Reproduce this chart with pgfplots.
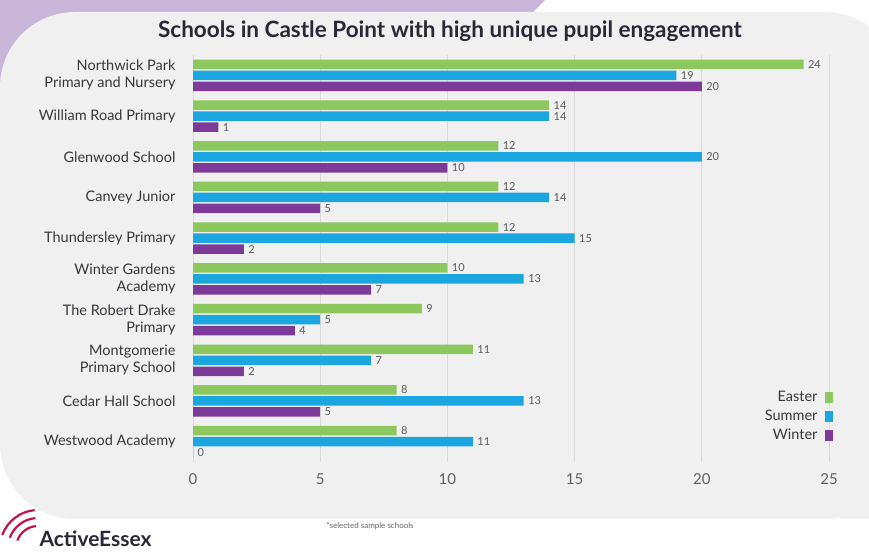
\documentclass[border=0pt]{standalone}
\usepackage{pgfplots}
\pgfplotsset{compat=1.18}
\usepackage{fontspec}
\setmainfont{Lato}
\definecolor{eastergreen}{RGB}{141,200,95}
\definecolor{summerblue}{RGB}{27,166,224}
\definecolor{winterpurple}{RGB}{125,58,152}
\definecolor{panelgray}{RGB}{240,240,240}
\definecolor{lavender}{RGB}{201,181,215}
\definecolor{titlecol}{RGB}{40,40,55}
\definecolor{labcol}{RGB}{55,55,60}
\definecolor{logored}{RGB}{196,18,74}
\begin{document}
\begin{tikzpicture}[x=1pt,y=1pt]
\useasboundingbox (0,0) rectangle (869,551);
\clip (0,0) rectangle (869,551);
\fill[white] (0,0) rectangle (869,551);
\fill[lavender] (0,551) -- (545,551) -- (530,536) -- (0,536) -- cycle;
\fill[lavender] (0,551) rectangle (60,400);
\fill[panelgray, rounded corners=75pt] (0,32) rectangle (900,539);
\fill[panelgray] (0,300) rectangle (40,400);
\fill[panelgray] (840,32) rectangle (900,400);
\node[font=\fontsize{22.5}{26}\selectfont\bfseries, text=titlecol] at (450,520) {Schools in Castle Point with high unique pupil engagement};
\node[font=\fontsize{8}{10}\selectfont, text=gray!80!black] at (370,25) {*selected sample schools};
\foreach \r in {22,30,38} {
  \draw[logored, line width=2.2pt] (38,3) ++(160:\r) arc (160:95:\r);
}
\node[anchor=base west, font=\fontsize{21}{25}\selectfont\bfseries, text=titlecol] at (36,5) {ActiveEssex};
\begin{axis}[
  at={(193pt,89pt)}, anchor=south west,
  scale only axis, width=636pt, height=407pt,
  xbar, bar width=9.5pt,
  xmin=0, xmax=25, ymin=-0.5, ymax=9.5, y dir=reverse,
  ytick={0,...,9},
  yticklabels={{Northwick Park\\Primary and Nursery},{William Road Primary},{Glenwood School},{Canvey Junior},{Thundersley Primary},{Winter Gardens\\Academy},{The Robert Drake\\Primary},{Montgomerie\\Primary School},{Cedar Hall School},{Westwood Academy}},
  yticklabel style={align=right, font=\fontsize{14.5}{17}\selectfont, text=labcol, xshift=-14pt},
  xtick={0,5,...,25},
  xticklabel style={font=\fontsize{15}{18}\selectfont, text=gray!75!black, yshift=-8pt},
  /pgf/number format/assume math mode=true,
  axis line style={draw=none},
  major tick length=0pt,
  xmajorgrids, grid style={gray!30, line width=0.8pt},
  nodes near coords,
  nodes near coords style={anchor=west, xshift=1pt, text=gray!70!black, font=\fontsize{11}{12}\selectfont},
  every node near coord/.append style={/pgf/number format/assume math mode=true},
  legend style={at={(1.012,0.185)}, anchor=north east, draw=none, fill=none,
    font=\fontsize{14.5}{17}\selectfont, text=labcol, legend cell align=right,
    row sep=3pt, column sep=6pt},
  legend plot pos=right,
  legend image code/.code={\fill (0pt,-6pt) rectangle (8pt,5pt);},
]
\addplot[draw=none, fill=eastergreen, bar shift=11pt] coordinates {(24,0) (14,1) (12,2) (12,3) (12,4) (10,5) (9,6) (11,7) (8,8) (8,9)};
\addplot[draw=none, fill=summerblue, bar shift=0pt] coordinates {(19,0) (14,1) (20,2) (14,3) (15,4) (13,5) (5,6) (7,7) (13,8) (11,9)};
\addplot[draw=none, fill=winterpurple, bar shift=-11pt] coordinates {(20,0) (1,1) (10,2) (5,3) (2,4) (7,5) (4,6) (2,7) (5,8) (0,9)};
\legend{Easter,Summer,Winter}
\end{axis}
\end{tikzpicture}
\end{document}
